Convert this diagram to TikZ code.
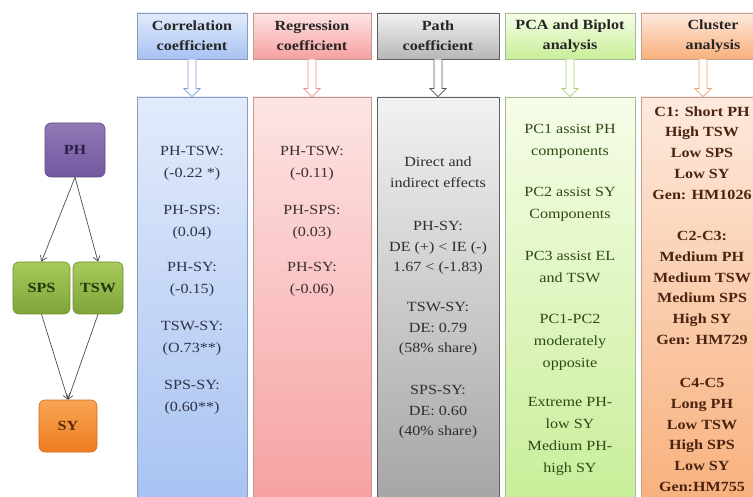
\documentclass[tikz,border=0pt]{standalone}
\usepackage{fontspec}
\setmainfont{Liberation Serif}[FakeStretch=1.15]
\usetikzlibrary{arrows.meta,shadows,calc}

\definecolor{corrTop}{HTML}{E2EBFB}
\definecolor{corrBot}{HTML}{A7C2F2}
\definecolor{corrLine}{HTML}{8A9CC0}
\definecolor{corrArr}{HTML}{7F9FD8}
\definecolor{corrTxt}{HTML}{2F3447}
\definecolor{regTop}{HTML}{FDE4E4}
\definecolor{regBot}{HTML}{F7A0A0}
\definecolor{regLine}{HTML}{B79A9A}
\definecolor{regArr}{HTML}{E88C8C}
\definecolor{regTxt}{HTML}{3B2F30}
\definecolor{pathTop}{HTML}{F2F2F2}
\definecolor{pathBot}{HTML}{A4A4A4}
\definecolor{pathLine}{HTML}{5E5E5E}
\definecolor{pathArr}{HTML}{555555}
\definecolor{pathTxt}{HTML}{2E2E2E}
\definecolor{pcaTop}{HTML}{F6FDE8}
\definecolor{pcaBot}{HTML}{C8EE98}
\definecolor{pcaLine}{HTML}{A8B898}
\definecolor{pcaArr}{HTML}{A6D672}
\definecolor{pcaTxt}{HTML}{2E4A16}
\definecolor{cluTop}{HTML}{FDE9DD}
\definecolor{cluBot}{HTML}{F8B07C}
\definecolor{cluLine}{HTML}{C0A090}
\definecolor{cluArr}{HTML}{F0A070}
\definecolor{cluTxt}{HTML}{4A2410}
\definecolor{phTop}{HTML}{9079B5}
\definecolor{phBot}{HTML}{7357A0}
\definecolor{phLine}{HTML}{5F4A80}
\definecolor{phTxt}{HTML}{2B1E4A}
\definecolor{gTop}{HTML}{A8CA5C}
\definecolor{gBot}{HTML}{7EA438}
\definecolor{gLine}{HTML}{6D8F33}
\definecolor{gTxt}{HTML}{1E3A0C}
\definecolor{oTop}{HTML}{F9A555}
\definecolor{oBot}{HTML}{EE7C20}
\definecolor{oLine}{HTML}{D06A1A}
\definecolor{oTxt}{HTML}{5A2A08}

\newcommand\hollowarrow[3]{%
  \draw[draw=#3, fill=white, line width=0.8pt]
    ($(#1.south -| #2.north)+(-4,0)$) -- ($(#2.north)+(-4,-8)$) --
    ($(#2.north)+(-8,-8)$) -- (#2.north) -- ($(#2.north)+(8,-8)$) --
    ($(#2.north)+(4,-8)$) -- ($(#1.south -| #2.north)+(4,0)$);}

\tikzset{
  hdr/.style={minimum height=46pt, inner sep=0pt, align=center,
    font=\fontsize{14}{20}\selectfont\bfseries, text=black!85, line width=0.8pt,
    drop shadow={opacity=0.2, shadow xshift=1pt, shadow yshift=-1.2pt}},
  colbody/.style={minimum height=410pt, inner sep=0pt, line width=0.8pt},
  btxt/.style={align=center, inner sep=0pt, font=\fontsize{14}{22}\selectfont},
  ptxt/.style={align=center, inner sep=0pt, font=\fontsize{14}{20.5}\selectfont},
  ctxt/.style={align=center, inner sep=0pt, font=\fontsize{14}{20.8}\selectfont\bfseries},
  gnode/.style={rounded corners=6pt, inner sep=0pt,
    font=\fontsize{14}{16}\selectfont\bfseries, line width=0.6pt},
  edge/.style={draw=black!70, line width=0.7pt, -{Straight Barb[length=5pt,width=7pt]}}
}

\begin{document}
\begin{tikzpicture}[x=1pt,y=-1pt]
\useasboundingbox (0,0) rectangle (753,497);
\fill[white] (0,0) rectangle (753,497);
\clip (0,0) rectangle (753,497);

% column bodies
\node[colbody, minimum width=110pt, top color=corrTop, bottom color=corrBot, draw=corrLine] (bA) at (192,302) {};
\node[colbody, minimum width=118pt, top color=regTop, bottom color=regBot, draw=regLine] (bB) at (312,302) {};
\node[colbody, minimum width=122pt, top color=pathTop, bottom color=pathBot, draw=pathLine] (bC) at (438,302) {};
\node[colbody, minimum width=130pt, top color=pcaTop, bottom color=pcaBot, draw=pcaLine] (bD) at (570,302) {};
\node[colbody, minimum width=124pt, top color=cluTop, bottom color=cluBot, draw=cluLine] (bE) at (703,302) {};

% headers
\node[hdr, minimum width=110pt, top color=corrTop, bottom color=corrBot, draw=corrLine] (hA) at (192,36) {Correlation\\coefficient};
\node[hdr, minimum width=118pt, top color=regTop, bottom color=regBot, draw=regLine] (hB) at (312,36) {Regression\\coefficient};
\node[hdr, minimum width=122pt, top color=pathTop, bottom color=pathBot!80, draw=pathLine] (hC) at (438,36) {Path\\coefficient};
\node[hdr, minimum width=130pt, top color=pcaTop, bottom color=pcaBot, draw=pcaLine] (hD) at (570,36) {PCA and Biplot\\analysis};
\node[hdr, minimum width=144pt, top color=cluTop, bottom color=cluBot, draw=cluLine] (hE) at (713,36) {Cluster\\analysis};

% hollow arrows
\hollowarrow{hA}{bA}{corrArr}
\hollowarrow{hB}{bB}{regArr}
\hollowarrow{hC}{bC}{pathArr}
\hollowarrow{hD}{bD}{pcaArr}
\hollowarrow{hE}{bE}{cluArr}

% correlation texts
\node[btxt, text=corrTxt] (a1) at (192,163) {PH-TSW:\\(-0.22 *)};
\node[btxt, text=corrTxt] (a2) at (192,222) {PH-SPS:\\(0.04)};
\node[btxt, text=corrTxt] (a3) at (192,279) {PH-SY:\\(-0.15)};
\node[btxt, text=corrTxt] (a4) at (192,338) {TSW-SY:\\(O.73**)};
\node[btxt, text=corrTxt] (a5) at (192,397) {SPS-SY:\\(0.60**)};

% regression texts
\node[btxt, text=regTxt] (r1) at (312,163) {PH-TSW:\\(-0.11)};
\node[btxt, text=regTxt] (r2) at (312,222) {PH-SPS:\\(0.03)};
\node[btxt, text=regTxt] (r3) at (312,279) {PH-SY:\\(-0.06)};

% path texts
\node[ptxt, text=pathTxt] (p1) at (438,172) {Direct and\\indirect effects};
\node[ptxt, text=pathTxt] (p2) at (438,248) {PH-SY:\\DE (+) < IE (-)\\1.67 < (-1.83)};
\node[ptxt, text=pathTxt] (p3) at (438,329) {TSW-SY:\\DE: 0.79\\(58\% share)};
\node[ptxt, text=pathTxt] (p4) at (438,412) {SPS-SY:\\DE: 0.60\\(40\% share)};

% PCA texts
\node[btxt, text=pcaTxt] (c1) at (570,141) {PC1 assist PH\\components};
\node[btxt, text=pcaTxt] (c2) at (570,204) {PC2 assist SY\\Components};
\node[btxt, text=pcaTxt] (c3) at (570,267) {PC3 assist EL\\and TSW};
\node[btxt, text=pcaTxt] (c4) at (570,342) {PC1-PC2\\moderately\\opposite};
\node[btxt, text=pcaTxt] (c5) at (570,436) {Extreme PH-\\low SY\\Medium PH-\\high SY};

% cluster texts
\node[ctxt, text=cluTxt] (k1) at (702,153) {C1: Short PH\\High TSW\\Low SPS\\Low SY\\Gen: HM1026};
\node[ctxt, text=cluTxt] (k2) at (702,288) {C2-C3:\\Medium PH\\Medium TSW\\Medium SPS\\High SY\\Gen: HM729};
\node[ctxt, text=cluTxt] (k3) at (702,435) {C4-C5\\Long PH\\Low TSW\\High SPS\\Low SY\\Gen:HM755};

% left path graph
\node[gnode, minimum width=60pt, minimum height=54pt, top color=phTop, bottom color=phBot, draw=phLine, text=phTxt] (PH) at (75,150) {PH};
\node[gnode, minimum width=57pt, minimum height=52pt, top color=gTop, bottom color=gBot, draw=gLine, text=gTxt] (SPS) at (41.5,288) {SPS};
\node[gnode, minimum width=50pt, minimum height=52pt, top color=gTop, bottom color=gBot, draw=gLine, text=gTxt] (TSW) at (98,288) {TSW};
\node[gnode, minimum width=58pt, minimum height=52pt, top color=oTop, bottom color=oBot, draw=oLine, text=oTxt] (SY) at (68,426) {SY};

\draw[edge] (PH.south) -- (SPS.north);
\draw[edge] (PH.south) -- (TSW.north);
\draw[edge] (SPS.south) -- (SY.north);
\draw[edge] (TSW.south) -- (SY.north);
\end{tikzpicture}
\end{document}
